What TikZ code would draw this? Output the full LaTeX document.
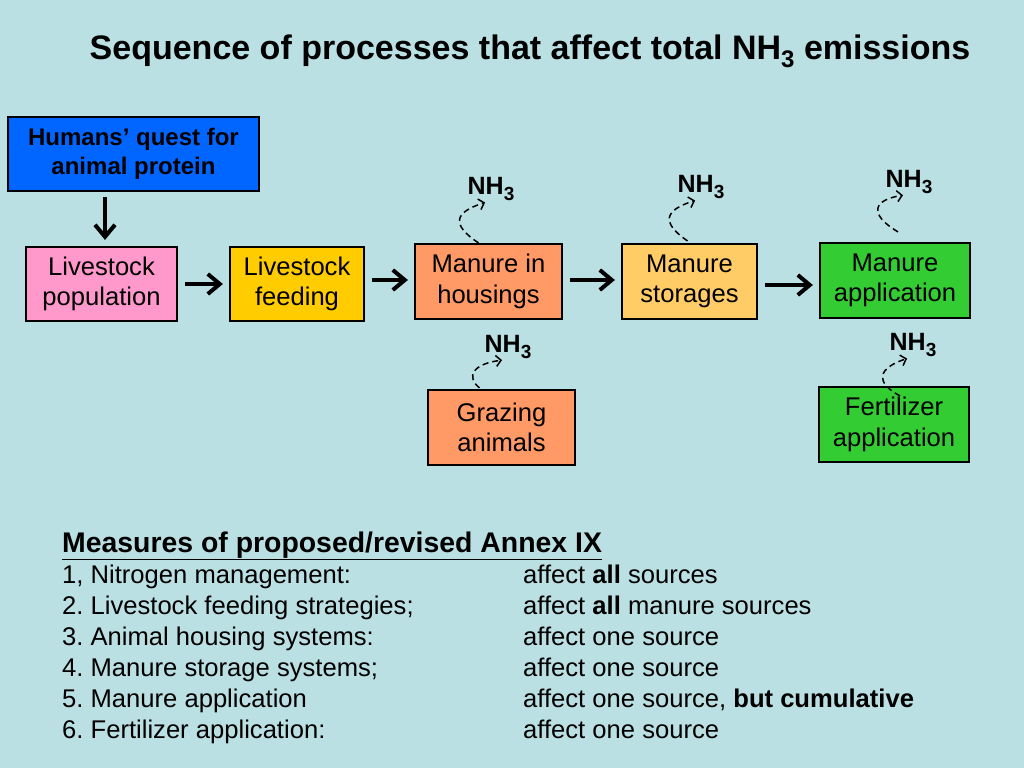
\documentclass[tikz,border=0pt]{standalone}
\usepackage{fontspec}
\setmainfont{Liberation Sans}
\usepackage{xcolor}
\usepackage{tikz}
\usetikzlibrary{arrows.meta,positioning}
\definecolor{slidebg}{RGB}{187,224,227}
\definecolor{questblue}{RGB}{0,102,255}
\definecolor{popink}{RGB}{255,153,204}
\definecolor{feedyellow}{RGB}{255,204,0}
\definecolor{housesalmon}{RGB}{255,153,102}
\definecolor{storeorange}{RGB}{255,204,102}
\definecolor{applgreen}{RGB}{51,204,51}
\tikzset{>={Straight Barb[length=12pt,width=20pt,line width=4pt]}}
\newcommand{\nhthree}{\textbf{NH\raisebox{-0.45ex}{\fontsize{19}{19}\selectfont 3}}}
\frenchspacing

\begin{document}
\begin{tikzpicture}[x=1pt,y=1pt,
              proc/.style={draw, line width=2.2pt, align=center, inner sep=0pt,
                           font=\fontsize{25.6}{30.5}\selectfont},
              flow/.style={line width=4pt, ->, shorten <=7pt, shorten >=6pt},
              gas/.style={line width=1.5pt, dashed, dash pattern=on 6pt off 4pt,
                          -{Straight Barb[length=5pt,width=11pt]}, shorten >=2pt},
              nhlabel/.style={inner sep=1pt, font=\fontsize{25}{30}\selectfont},
              listtext/.style={anchor=base west, inner sep=0pt, font=\fontsize{25.6}{30}\selectfont},
             ]
\useasboundingbox (0,0) rectangle (1024,-768);
\fill[slidebg] (0,0) rectangle (1024,-768);

\node[font=\fontsize{34}{40}\selectfont\bfseries] (title) at (530,-51)
  {Sequence of processes that affect total NH\raisebox{-0.45ex}{\fontsize{24}{24}\selectfont 3} emissions};

% boxes
\node[proc, fill=questblue, minimum width=251pt, minimum height=74pt,
      font=\fontsize{24}{28.5}\selectfont\bfseries] (quest) at (133.5,-154)
  {Humans’ quest for\\animal protein};
\node[proc, fill=popink, minimum width=151pt, minimum height=74pt] (livpop) at (101.5,-284)
  {Livestock\\population};
\node[proc, fill=feedyellow, minimum width=134pt, minimum height=74pt] (livfeed) at (297,-284)
  {Livestock\\feeding};
\node[proc, fill=housesalmon, minimum width=147pt, minimum height=75pt] (housing) at (488.5,-281.5)
  {Manure in\\housings};
\node[proc, fill=storeorange, minimum width=135pt, minimum height=75pt] (storage) at (689.5,-281.5)
  {Manure\\storages};
\node[proc, fill=applgreen, minimum width=150pt, minimum height=75pt] (appl) at (895,-280.5)
  {Manure\\application};
\node[proc, fill=housesalmon, minimum width=147pt, minimum height=75pt] (grazing) at (501.5,-427.5)
  {Grazing\\animals};
\node[proc, fill=applgreen, minimum width=150pt, minimum height=75pt] (fert) at (894,-424.5)
  {Fertilizer\\application};

% arrows
\draw[flow, shorten <=5pt] ([xshift=-28.5pt]quest.south) -- ([xshift=-28.5pt]quest.south |- livpop.north);
\draw[flow] (livpop.east) -- (livfeed.west);
\draw[flow] ([yshift=4pt]livfeed.east) -- ([yshift=1.5pt]housing.west);
\draw[flow] ([yshift=1.5pt]housing.east) -- ([yshift=1.5pt]storage.west);
\draw[flow] ([yshift=-3.5pt]storage.east) -- ([yshift=-4.5pt]appl.west);

% NH3 emissions
\node[nhlabel] (nhhouse) at (491,-189) {\nhthree};
\node[nhlabel] (nhstore) at (701,-187) {\nhthree};
\node[nhlabel] (nhappl) at (909,-182) {\nhthree};
\node[nhlabel] (nhgraze) at (508,-347) {\nhthree};
\node[nhlabel] (nhfert) at (913,-345) {\nhthree};

\draw[gas] ([xshift=-10pt]housing.north) .. controls (450,-224) and (455,-212) .. ([xshift=-4pt]nhhouse.south);
\draw[gas] ([xshift=-2pt,yshift=2pt]storage.north) .. controls (660,-222) and (665,-210) .. ([xshift=-4pt]nhstore.south);
\draw[gas] ([xshift=3pt,yshift=10pt]appl.north) .. controls (868,-214) and (873,-200) .. ([xshift=-4pt]nhappl.south);
\draw[gas] ([xshift=-22pt,yshift=1pt]grazing.north) .. controls (466,-377) and (472,-364) .. ([xshift=-4pt]nhgraze.south);
\draw[gas] ([xshift=6pt,yshift=-10pt]fert.north) .. controls (874,-382) and (878,-368) .. ([xshift=-4pt]nhfert.south);

% measures list
\node[listtext, font=\fontsize{28.4}{32}\selectfont\bfseries] (mhead) at (62,-552)
  {\underline{Measures of proposed/revised Annex IX}};
\foreach \i/\mleft/\mright in {
    1/{1, Nitrogen management:}/{affect \textbf{all} sources},
    2/{2. Livestock feeding strategies;}/{affect \textbf{all} manure sources},
    3/{3. Animal housing systems:}/{affect one source},
    4/{4. Manure storage systems;}/{affect one source},
    5/{5. Manure application}/{affect one source, \textbf{but cumulative}},
    6/{6. Fertilizer application:}/{affect one source}} {
  \node[listtext] (mleft\i) at (62,{-552-31*\i}) {\mleft};
  \node[listtext] (mright\i) at (523,{-552-31*\i}) {\mright};
}
\end{tikzpicture}
\end{document}
